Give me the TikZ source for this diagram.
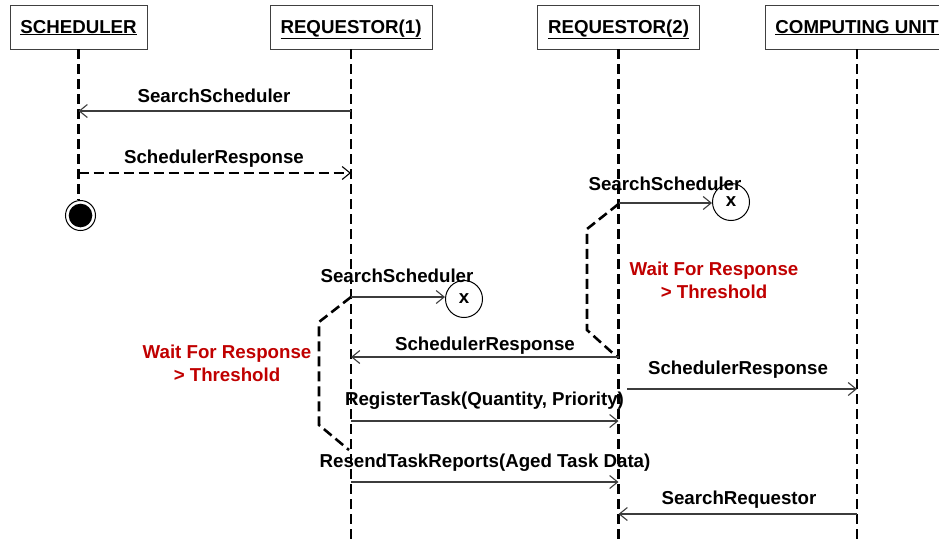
\documentclass[tikz,border=0pt]{standalone}
\usepackage{fontspec}
\setmainfont{Liberation Sans}
\usetikzlibrary{arrows.meta}
\definecolor{waitred}{RGB}{192,0,0}
\definecolor{msggray}{RGB}{60,60,60}
\begin{document}
\begin{tikzpicture}[x=1pt,y=-1pt,
  every node/.style={font=\bfseries\fontsize{18.7}{23.5}\selectfont},
  head/.style={draw=black!75, line width=0.9pt, minimum height=44pt, inner sep=0pt,
    text height=15pt, text depth=3pt},
  life/.style={line width=2.8pt, dash pattern=on 10pt off 5pt},
  msg/.style={draw=msggray, line width=1.1pt, -{Straight Barb[length=8pt,width=13pt]}},
  reply/.style={line width=2.6pt, dash pattern=on 10pt off 5pt,
    -{Straight Barb[length=8pt,width=13pt,line width=1.1pt]}},
  lbl/.style={anchor=base, inner sep=0pt},
  waitlbl/.style={text=waitred, align=center, inner sep=0pt, anchor=north},
  wait/.style={line width=2.6pt, dash pattern=on 10pt off 5pt},
  lost/.style={draw, circle, line width=1pt, minimum size=37pt, inner sep=0pt},
  stopmark/.style={draw, circle, line width=1pt, minimum size=30pt, inner sep=0pt,
    path picture={\fill (path picture bounding box.center) circle (11.8pt);}},
]
\useasboundingbox (0,0) rectangle (939,544);
\clip (0,0) rectangle (939,544);

% lifeline heads
\node[head, minimum width=137pt] (sch) at (78.5,27) {\underline{SCHEDULER}};
\node[head, minimum width=162pt] (rq1) at (351,27) {\underline{REQUESTOR(1)}};
\node[head, minimum width=162pt] (rq2) at (618.5,27) {\underline{REQUESTOR(2)}};
\node[head, minimum width=184pt] (cu) at (857,27) {\underline{COMPUTING UNIT}};
\coordinate (bottom) at (0,544);

% scheduler terminates
\node[stopmark] (stop) at (80.5,215.5) {};

% lifelines
\draw[life] (sch.south) -- (sch.south |- stop.north);
\draw[life] (rq1.south) -- (rq1.south |- bottom);
\draw[life] (rq2.south) -- (rq2.south |- bottom);
\draw[life] (cu.south) -- (cu.south |- bottom);

% lost messages
\node[lost] (x2) at (731,202) {x};
\node[lost] (x1) at (464,299) {x};

% timeout brackets
\draw[wait] (rq1.south |- 0,297) -- (319,322) -- (319,425) -- (349,450);
\draw[wait] (rq2.south |- 0,204) -- (587,229) -- (587,330) -- (617,357);
\node[waitlbl] (w1) at (227,344.6) {Wait For Response\\> Threshold};
\node[waitlbl] (w2) at (714,261.6) {Wait For Response\\> Threshold};

% messages
\draw[msg] (rq1.south |- 0,111) -- (sch.south |- 0,111);
\node[lbl] (l1) at (214,102) {SearchScheduler};

\draw[reply] (sch.south |- 0,173) -- (rq1.south |- 0,173);
\node[lbl] (l2) at (214,163) {SchedulerResponse};

\draw[msg] (rq2.south |- 0,203) -- (x2.west |- 0,203);
\node[lbl] (l3) at (665,190) {SearchScheduler};

\draw[msg] (rq1.south |- 0,297) -- (x1.west |- 0,297);
\node[lbl] (l4) at (397,282) {SearchScheduler};

\draw[msg] (rq2.south |- 0,357) -- (rq1.south |- 0,357);
\node[lbl] (l5) at (485,350) {SchedulerResponse};

\coordinate (m6s) at (627,389);
\draw[msg] (m6s) -- (cu.south |- m6s);
\node[lbl] (l6) at (738,374) {SchedulerResponse};

\draw[msg] (rq1.south |- 0,421) -- (rq2.south |- 0,421);
\node[lbl] (l7) at (484.5,405) {RegisterTask(Quantity, Priority)};

\draw[msg] (rq1.south |- 0,482) -- (rq2.south |- 0,482);
\node[lbl] (l8) at (485,467) {ResendTaskReports(Aged Task Data)};

\draw[msg] (cu.south |- 0,514) -- (rq2.south |- 0,514);
\node[lbl] (l9) at (739,504) {SearchRequestor};
\end{tikzpicture}
\end{document}
